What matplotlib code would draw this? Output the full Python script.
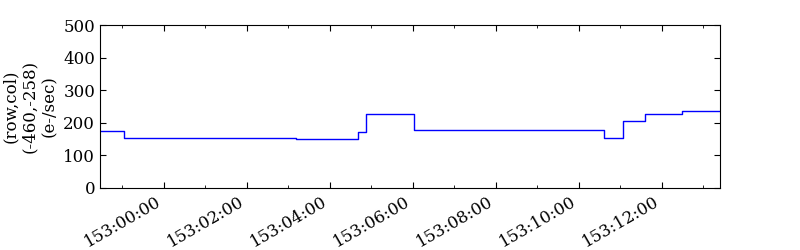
import matplotlib
matplotlib.use("Agg")
import matplotlib.pyplot as plt
from matplotlib.ticker import MultipleLocator, FuncFormatter

# step start times, minutes after 153:00:00 (last entry = end of data)
times = [-1.54, -0.96, 3.19, 4.69, 4.88, 6.02, 10.62, 11.08, 11.60, 12.49, 13.41]
# count rate in e-/sec for each step
rates = [176, 154, 149, 171, 226, 177, 152, 205, 227, 236]

ylabel = "(row,col)\n(-460,-258)\n(e-/sec)"

plt.rcParams["font.family"] = "DejaVu Serif"
plt.rcParams["font.size"] = 12


def fmt_time(m, pos):
    return "153:%02d:00" % int(round(m))


fig = plt.figure(figsize=(8, 2.5), dpi=100)
ax = fig.add_axes([0.125, 0.248, 0.775, 0.652])

ax.step(times, rates + [rates[-1]], where="post", color="#0000ff", lw=1)

ax.set_xlim(times[0], times[-1])
ax.set_ylim(0, 500)
ax.yaxis.set_major_locator(MultipleLocator(100))
ax.xaxis.set_major_locator(MultipleLocator(2))
ax.xaxis.set_minor_locator(MultipleLocator(1))
ax.xaxis.set_major_formatter(FuncFormatter(fmt_time))

ax.tick_params(which="both", direction="in", top=True, right=True)
ax.tick_params(which="major", length=4)
ax.tick_params(which="minor", length=2)
for lab in ax.get_xticklabels():
    lab.set_rotation(30)
    lab.set_ha("right")

ax.set_ylabel(ylabel, multialignment="center")

fig.savefig("out.png", dpi=100)
